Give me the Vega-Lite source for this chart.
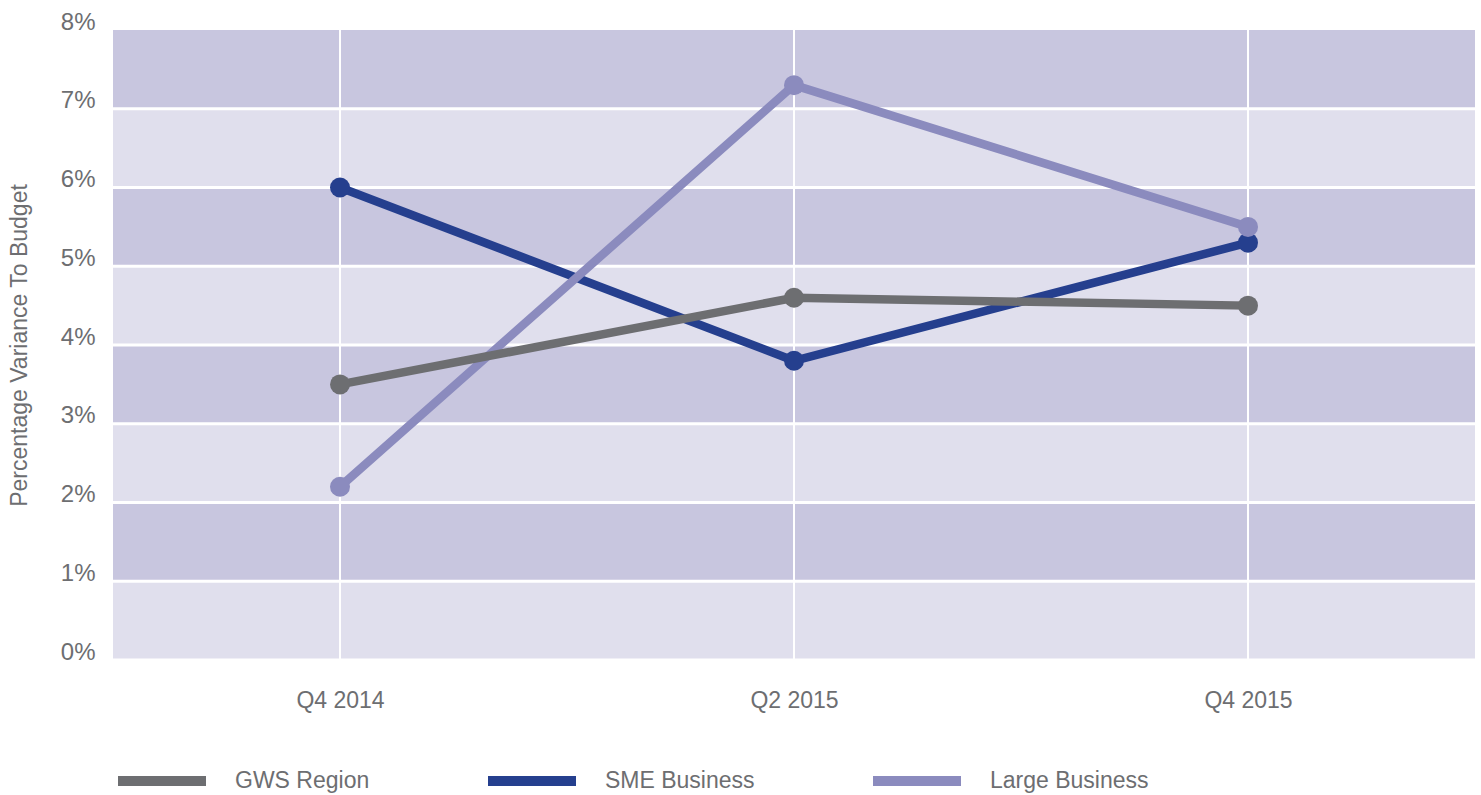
{
  "$schema": "https://vega.github.io/schema/vega-lite/v6.json",
  "width": 1362,
  "height": 630,
  "autosize": {"type": "none"},
  "padding": {"left": 113, "top": 30, "right": 6, "bottom": 135},
  "background": "white",
  "config": {
    "font": "Liberation Sans",
    "view": {"stroke": null},
    "axis": {"labelFont": "Liberation Sans", "titleFont": "Liberation Sans"}
  },
  "datasets": {
    "bands": [
      {"lo": 0, "hi": 1, "shade": "light"},
      {"lo": 1, "hi": 2, "shade": "dark"},
      {"lo": 2, "hi": 3, "shade": "light"},
      {"lo": 3, "hi": 4, "shade": "dark"},
      {"lo": 4, "hi": 5, "shade": "light"},
      {"lo": 5, "hi": 6, "shade": "dark"},
      {"lo": 6, "hi": 7, "shade": "light"},
      {"lo": 7, "hi": 8, "shade": "dark"}
    ],
    "series": [
      {"quarter": "Q4 2014", "series": "SME Business", "value": 6.0},
      {"quarter": "Q2 2015", "series": "SME Business", "value": 3.8},
      {"quarter": "Q4 2015", "series": "SME Business", "value": 5.3},
      {"quarter": "Q4 2014", "series": "Large Business", "value": 2.2},
      {"quarter": "Q2 2015", "series": "Large Business", "value": 7.3},
      {"quarter": "Q4 2015", "series": "Large Business", "value": 5.5},
      {"quarter": "Q4 2014", "series": "GWS Region", "value": 3.5},
      {"quarter": "Q2 2015", "series": "GWS Region", "value": 4.6},
      {"quarter": "Q4 2015", "series": "GWS Region", "value": 4.5}
    ]
  },
  "layer": [
    {
      "data": {"name": "bands"},
      "mark": {"type": "rect"},
      "encoding": {
        "y": {
          "field": "lo", "type": "quantitative",
          "scale": {"domain": [0, 8], "nice": false},
          "axis": {
            "title": "Percentage Variance To Budget", "titleFontSize": 23, "titleColor": "#6d6e71",
            "titleFontWeight": "normal", "titlePadding": 29,
            "values": [0, 1, 2, 3, 4, 5, 6, 7, 8],
            "labelExpr": "datum.value + '%'",
            "domain": false, "ticks": false, "grid": false,
            "labelFontSize": 24, "labelColor": "#6d6e71", "labelPadding": 18, "labelOffset": -8
          }
        },
        "y2": {"field": "hi"},
        "fill": {"condition": {"test": "datum.shade === 'dark'", "value": "#c8c6df"}, "value": "#e0dfed"}
      }
    },
    {
      "data": {"name": "bands"},
      "mark": {"type": "rule", "color": "white", "strokeWidth": 3},
      "encoding": {
        "y": {"field": "lo", "type": "quantitative"}
      }
    },
    {
      "data": {"name": "series"},
      "mark": {"type": "rule", "color": "white", "strokeWidth": 2},
      "encoding": {
        "x": {
          "field": "quarter", "type": "ordinal", "sort": ["Q4 2014", "Q2 2015", "Q4 2015"],
          "scale": {"type": "point", "padding": 0.5},
          "axis": {
            "title": null, "domain": false, "ticks": false, "grid": false, "labelAngle": 0,
            "labelAlign": "center", "labelBaseline": "top",
            "labelFontSize": 23, "labelColor": "#6d6e71", "labelPadding": 29
          }
        }
      }
    },
    {
      "data": {"name": "series"},
      "encoding": {
        "x": {
          "field": "quarter", "type": "ordinal", "sort": ["Q4 2014", "Q2 2015", "Q4 2015"],
          "scale": {"type": "point", "padding": 0.5},
          "axis": {
            "title": null, "domain": false, "ticks": false, "grid": false, "labelAngle": 0,
            "labelAlign": "center", "labelBaseline": "top",
            "labelFontSize": 23, "labelColor": "#6d6e71", "labelPadding": 29
          }
        },
        "y": {
          "field": "value", "type": "quantitative"
        },
        "color": {
          "field": "series", "type": "nominal",
          "scale": {"domain": ["GWS Region", "SME Business", "Large Business"], "range": ["#6d6e71", "#253f8e", "#8b8bbe"]},
          "legend": {
            "title": null, "orient": "bottom", "direction": "horizontal",
            "symbolType": "stroke", "symbolSize": 7744, "symbolStrokeWidth": 10,
            "labelFontSize": 23, "labelColor": "#6d6e71", "labelOffset": 24,
            "gridAlign": "each", "columnPadding": 98, "offset": 20, "padding": 0
          }
        }
      },
      "layer": [
        {"mark": {"type": "line", "strokeWidth": 8.5}},
        {"mark": {"type": "circle", "size": 400, "opacity": 1}}
      ]
    }
  ]
}
